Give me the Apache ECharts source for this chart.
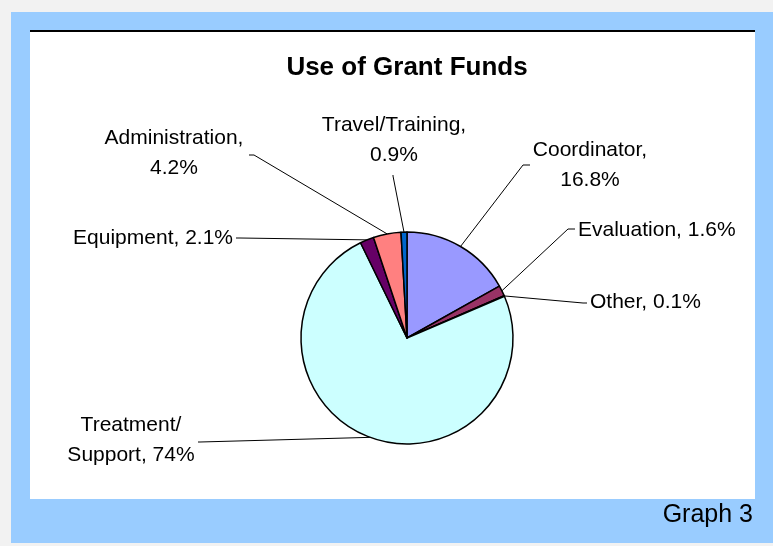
<!DOCTYPE html>
<html>
<head>
<meta charset="utf-8">
<title>Use of Grant Funds</title>
<script src="https://cdn.jsdelivr.net/npm/echarts@6/dist/echarts.min.js"></script>
<style>
    html, body { margin: 0; padding: 0; background: #f2f2f2; }
    .pie { width: 773px; height: 546px; }
</style>
</head>
<body>
<div class="pie"></div>
<script>
// 数据
var categories = ['Coordinator', 'Evaluation', 'Other', 'Treatment/\nSupport', 'Equipment', 'Administration', 'Travel/Training'];
var values = [16.8, 1.6, 0.1, 74, 2.1, 4.2, 0.9];
var valueLabels = ['16.8%', '1.6%', '0.1%', '74%', '2.1%', '4.2%', '0.9%'];
var breakAfterName = [true, false, false, false, false, true, true];
var colors = ['#9999ff', '#993366', '#000000', '#ccffff', '#660066', '#ff8080', '#0066cc'];

(function() {
    var cx = 407, cy = 338, r = 106;

    // 标签位置 x, y, 对齐, 引导线拐点
    var labelPos = [
        { x: 590, y: 165, align: 'center', bend: [523, 165], end: [530, 165] },
        { x: 578, y: 230, align: 'left', bend: [568, 229], end: [575, 229] },
        { x: 590, y: 302, align: 'left', bend: [583, 303], end: [587, 303] },
        { x: 131, y: 440, align: 'center', bend: [200, 442], end: [198, 442] },
        { x: 233, y: 238, align: 'right', bend: [240, 238], end: [236, 238] },
        { x: 174, y: 153, align: 'center', bend: [254, 155], end: [249, 155] },
        { x: 394, y: 140, align: 'center', bend: [393, 176], end: [393, 175] }
    ];

    var total = values.reduce(function(a, b) { return a + b; }, 0);
    // 扇区中点在边上的位置
    function anchor(i) {
        var before = 0;
        for (var k = 0; k < i; k++) before += values[k];
        var mid = (before + values[i] / 2) / total;
        var theta = (90 - 360 * mid) * Math.PI / 180;
        return [cx + r * Math.cos(theta), cy - r * Math.sin(theta)];
    }

    var option = {
        backgroundColor: '#f2f2f2',
        animation: false,
        graphic: [
            { type: 'rect', z: -10, shape: { x: 11, y: 12, width: 762, height: 531 }, style: { fill: '#99ccff' } },
            { type: 'rect', z: -9, shape: { x: 30, y: 30, width: 725, height: 469 }, style: { fill: '#ffffff' } },
            { type: 'line', z: -8, shape: { x1: 30, y1: 31, x2: 755, y2: 31 }, style: { stroke: '#000', lineWidth: 2 } },
            {
                type: 'text', z: 10, x: 407, y: 68,
                style: { text: 'Use of Grant Funds', fill: '#000', font: 'bold 26px "Liberation Sans", Arial', textAlign: 'center', textVerticalAlign: 'middle' }
            },
            {
                type: 'text', z: 10, x: 753, y: 515,
                style: { text: 'Graph 3', fill: '#000', font: '25px "Liberation Sans", Arial', textAlign: 'right', textVerticalAlign: 'middle' }
            }
        ],
        series: [{
            type: 'pie',
            center: [cx, cy],
            radius: r,
            startAngle: 90,
            clockwise: true,
            avoidLabelOverlap: false,
            silent: true,
            emphasis: { disabled: true },
            itemStyle: {
                borderColor: '#000',
                borderWidth: 1.5
            },
            label: {
                show: true,
                color: '#000',
                fontFamily: '"Liberation Sans", Arial',
                fontSize: 21,
                lineHeight: 30,
                formatter: function(p) {
                    var i = p.dataIndex;
                    return categories[i] + (breakAfterName[i] ? ',\n' : ', ') + valueLabels[i];
                }
            },
            labelLine: {
                show: true,
                lineStyle: { color: '#000', width: 1 }
            },
            labelLayout: function(params) {
                var i = params.dataIndex;
                var pos = labelPos[i];
                return {
                    x: pos.x,
                    y: pos.y,
                    align: pos.align,
                    verticalAlign: 'middle',
                    labelLinePoints: [anchor(i), pos.bend, pos.end]
                };
            },
            data: categories.map(function(name, i) {
                return { name: name, value: values[i], itemStyle: { color: colors[i] } };
            })
        }]
    };

    var myChart = echarts.init(document.querySelector('.pie'));
    myChart.setOption(option);
})();
</script>
</body>
</html>
